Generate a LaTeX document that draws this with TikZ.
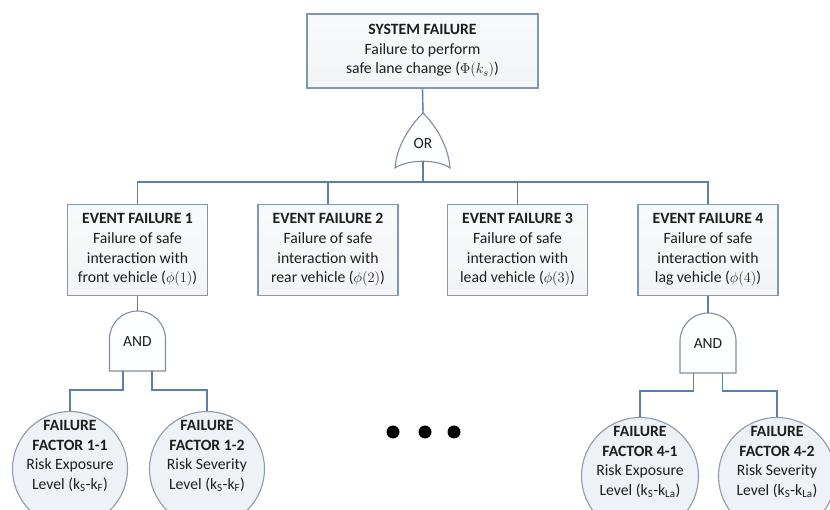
\documentclass[tikz,border=0pt]{standalone}
\usepackage{fontspec}
\setmainfont{Carlito}
\begin{document}
\definecolor{linec}{HTML}{5B7FA6}
\definecolor{boxc}{HTML}{7F97B2}
\definecolor{gatec}{HTML}{7D8EA3}
\definecolor{circc}{HTML}{8E9BAA}
\definecolor{circf}{HTML}{EEF1F5}
\definecolor{txt}{HTML}{1E1E1E}
\begin{tikzpicture}[x=1pt,y=1pt,
  conn/.style={draw=linec, line width=1.4pt},
  evbox/.style={draw=boxc, line width=1.2pt, top color=white!60!circf, bottom color=circf!85!boxc!40,
     minimum width=140pt, minimum height=91pt, align=center, inner sep=0pt,
     font=\fontsize{15.7}{19.6}\selectfont, text=txt},
  gate/.style={draw=gatec, line width=1.1pt, fill=white!97!circf},
  glabel/.style={font=\fontsize{15.5}{18}\selectfont, text=txt, inner sep=0pt},
  fcirc/.style={circle, draw=circc, line width=1.1pt, fill=circf, minimum size=115pt, inner sep=0pt},
  ftext/.style={align=center, inner sep=0pt, font=\fontsize{15.7}{19.6}\selectfont, text=txt},
  dotn/.style={circle, fill=black, minimum size=13pt, inner sep=0pt}]
\clip (0,0) rectangle (830,510);
\fill[white] (0,0) rectangle (830,510);

% top box
\node[evbox, minimum width=231pt, minimum height=74pt] (sys) at (422.5,459)
  {\textbf{SYSTEM FAILURE}\\Failure to perform\\safe lane change ($\Phi(k_s)$)};

% OR gate
\coordinate (ortop) at (423,397);
\coordinate (orbot) at (423,349);
\coordinate (bus) at (423,328);
\draw[gate] (ortop) .. controls (414,388) and (397,368) .. (395,342)
   .. controls (408,351) and (438,351) .. (450,342)
   .. controls (448,368) and (432,388) .. (ortop) -- cycle;
\node[glabel] (orl) at (423,366) {OR};

% event boxes
\node[evbox] (ev1) at (137.5,260) {\textbf{EVENT FAILURE 1}\\Failure of safe\\interaction with\\front vehicle ($\phi(1)$)};
\node[evbox] (ev2) at (328,260) {\textbf{EVENT FAILURE 2}\\Failure of safe\\interaction with\\rear vehicle ($\phi(2)$)};
\node[evbox] (ev3) at (517.5,260) {\textbf{EVENT FAILURE 3}\\Failure of safe\\interaction with\\lead vehicle ($\phi(3)$)};
\node[evbox] (ev4) at (708,260) {\textbf{EVENT FAILURE 4}\\Failure of safe\\interaction with\\lag vehicle ($\phi(4)$)};

\draw[conn] (sys.south) -- (ortop);
\draw[conn] (orbot) -- (bus);
\draw[conn] (ev1.north) |- (bus) -| (ev4.north);
\draw[conn] (ev2.north) -- (ev2.north |- bus);
\draw[conn] (ev3.north) -- (ev3.north |- bus);

% AND gate 1
\coordinate (a1top) at (137.5,199);
\coordinate (a1l) at (123,139);
\coordinate (a1r) at (152,139);
\draw[gate] (109.5,139) -- (109.5,171) arc[start angle=180, end angle=0, x radius=28, y radius=28] -- (165.5,139) -- cycle;
\node[glabel] (and1) at (137.5,168) {AND};
\draw[conn] (ev1.south) -- (a1top);

% AND gate 4
\coordinate (a4top) at (708,197);
\coordinate (a4l) at (693.5,137);
\coordinate (a4r) at (722.5,137);
\draw[gate] (680,137) -- (680,169) arc[start angle=180, end angle=0, x radius=28, y radius=28] -- (736,137) -- cycle;
\node[glabel] (and4) at (708,166) {AND};
\draw[conn] (ev4.south) -- (a4top);

% failure factor circles
\node[fcirc] (c11) at (70,41) {};
\node[fcirc] (c12) at (207,41) {};
\node[fcirc, minimum size=117pt] (c41) at (640,34) {};
\node[fcirc, minimum size=117pt] (c42) at (777,34) {};

\node[ftext] at ([yshift=13pt]c11.center) {\textbf{FAILURE}\\\textbf{FACTOR 1-1}\\Risk Exposure\\Level (k\textsubscript{S}-k\textsubscript{F})};
\node[ftext] at ([yshift=13pt]c12.center) {\textbf{FAILURE}\\\textbf{FACTOR 1-2}\\Risk Severity\\Level (k\textsubscript{S}-k\textsubscript{F})};
\node[ftext] at ([yshift=14pt]c41.center) {\textbf{FAILURE}\\\textbf{FACTOR 4-1}\\Risk Exposure\\Level (k\textsubscript{S}-k\textsubscript{La})};
\node[ftext] at ([yshift=14pt]c42.center) {\textbf{FAILURE}\\\textbf{FACTOR 4-2}\\Risk Severity\\Level (k\textsubscript{S}-k\textsubscript{La})};

\draw[conn] (a1l) -- ++(0,-19) -| (c11.north);
\draw[conn] (a1r) -- ++(0,-19) -| (c12.north);
\draw[conn] (a4l) -- ++(0,-18) -| (c41.north);
\draw[conn] (a4r) -- ++(0,-18) -| (c42.north);

% dots
\node[dotn] (d1) at (393,78) {};
\node[dotn] (d2) at (425,78) {};
\node[dotn] (d3) at (454,78) {};
\end{tikzpicture}
\end{document}
